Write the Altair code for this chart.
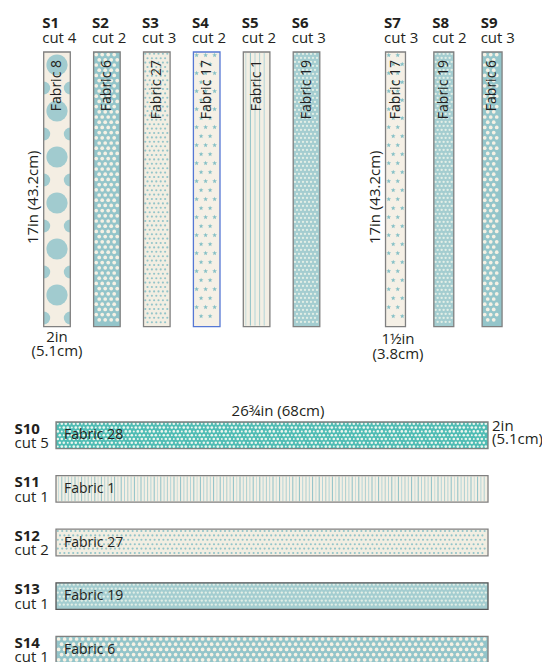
import altair as alt
import numpy as np
import pandas as pd

alt.data_transformers.disable_max_rows()

# ---------------- data ----------------
TOP_IDS = ["S1", "S2", "S3", "S4", "S5", "S6", "S7", "S8", "S9"]
TOP_CUTS = [4, 2, 3, 2, 2, 3, 3, 2, 3]
TOP_FABRICS = [8, 6, 27, 17, 1, 19, 17, 19, 6]
TOP_WIDTH_IN = [2, 2, 2, 2, 2, 2, 1.5, 1.5, 1.5]
TOP_LENGTH_IN = [17, 17, 17, 17, 17, 17, 17, 17, 17]
TOP_GROUP = [0, 0, 0, 0, 0, 0, 1, 1, 1]

BOTTOM_IDS = ["S10", "S11", "S12", "S13", "S14"]
BOTTOM_CUTS = [5, 1, 2, 1, 1]
BOTTOM_FABRICS = [28, 1, 27, 19, 6]
BOTTOM_LENGTH_IN = [26.75, 26.75, 26.75, 26.75, 26.75]
BOTTOM_WIDTH_IN = [2, 2, 2, 2, 2]

TOP_LENGTH_LABEL = "17in (43.2cm)"
TOP_WIDTH_LABELS = ["2in\n(5.1cm)", "1½in\n(3.8cm)"]
BOTTOM_LENGTH_LABEL = "26¾in (68cm)"
BOTTOM_WIDTH_LABEL = "2in\n(5.1cm)"

# ---------------- layout / style ----------------
W, H = 534, 654
PX_LONG = 16.15
PX_SHORT = 13.3
TOP_Y0 = 44
GROUP_CX0 = [49.0, 387.5]
GROUP_STEP = [49.9, 48.3]
BOT_X0 = 48
BOT_Y0 = 414
BOT_STEP = 53.6
INK = "#231f20"
FONT = "Open Sans"

FABRIC_BG = {8: "#f4eee3", 6: "#94c5ca", 27: "#f2eee2", 17: "#f5f0e6",
             1: "#f3efe4", 19: "#a4cdd0", 28: "#4fbcb4"}
BORDER = {"S4": "#5577d4", "S13": "#555555"}

# ---------------- strips ----------------
rows = []
counts = [0, 0]
for i, sid in enumerate(TOP_IDS):
    g = TOP_GROUP[i]
    cx = GROUP_CX0[g] + GROUP_STEP[g] * counts[g]
    counts[g] += 1
    w = TOP_WIDTH_IN[i] * PX_SHORT
    h = TOP_LENGTH_IN[i] * PX_LONG
    rows.append(dict(id=sid, cut=TOP_CUTS[i], fabric=TOP_FABRICS[i], orient="v", group=g,
                     x0=cx - w / 2, x1=cx + w / 2, y0=TOP_Y0, y1=TOP_Y0 + h))
for j, sid in enumerate(BOTTOM_IDS):
    y0 = BOT_Y0 + j * BOT_STEP
    rows.append(dict(id=sid, cut=BOTTOM_CUTS[j], fabric=BOTTOM_FABRICS[j], orient="h", group=2,
                     x0=BOT_X0, x1=BOT_X0 + BOTTOM_LENGTH_IN[j] * PX_LONG,
                     y0=y0, y1=y0 + BOTTOM_WIDTH_IN[j] * PX_SHORT))
strips = pd.DataFrame(rows)
strips["bg"] = strips["fabric"].map(FABRIC_BG)
strips["border"] = strips["id"].map(lambda s: BORDER.get(s, "#808080"))


# ---------------- fabric textures (decoration inside each strip) ----------------
def grid(x0, y0, x1, y1, dx, dy, m):
    out = []
    ys_ = np.arange(y0 + m, y1 - m + 1e-6, dy)
    for jj, yy in enumerate(ys_):
        off = dx / 2 if jj % 2 else 0.0
        for xx in np.arange(x0 + m + off, x1 - m + 1e-6, dx):
            out.append((float(xx), float(yy)))
    return out


dots, stars, lines, big, halfL, halfR = [], [], [], [], [], []
for r in strips.itertuples():
    f = r.fabric
    if f == 6:
        for (px, py) in grid(r.x0, r.y0, r.x1, r.y1, 6.0, 5.2, 2.6):
            dots.append(dict(x=px, y=py, c="#f6f1e4", s=14))
    elif f == 27:
        for (px, py) in grid(r.x0, r.y0, r.x1, r.y1, 4.4, 4.4, 1.8):
            dots.append(dict(x=px, y=py, c="#93c4c9", s=4.5))
    elif f == 19:
        for (px, py) in grid(r.x0, r.y0, r.x1, r.y1, 4.0, 4.0, 1.8):
            dots.append(dict(x=px, y=py, c="#e2eee6", s=5.5))
    elif f == 28:
        for k, (px, py) in enumerate(grid(r.x0, r.y0, r.x1, r.y1, 4.0, 3.8, 1.8)):
            dots.append(dict(x=px, y=py, c="#eef5ee", s=(7 if k % 3 else 4)))
    elif f == 17:
        for (px, py) in grid(r.x0, r.y0, r.x1, r.y1, 9.0, 9.0, 3.2):
            stars.append(dict(x=px, y=py, c="#86c0c6", s=26))
    elif f == 1:
        step = 4.6 if r.orient == "v" else 3.3
        for k, lx in enumerate(np.arange(r.x0 + 2.5, r.x1 - 1.5, step)):
            lines.append(dict(x=float(lx), y=r.y0 + 1, y2=r.y1 - 1,
                              c=("#8fc1c7" if k % 2 else "#b3d5d8"),
                              sw=(1.0 if k % 3 else 0.7)))
    elif f == 8:
        cx = (r.x0 + r.x1) / 2
        for cy in np.arange(r.y0 + 13, r.y1 - 11, 46.0):
            big.append(dict(x=cx, y=float(cy)))
        for cy in np.arange(r.y0 + 36, r.y1, 46.0):
            halfL.append(dict(x=r.x0, y=float(cy)))
            halfR.append(dict(x=r.x1, y=float(cy)))

dots = pd.DataFrame(dots)
stars = pd.DataFrame(stars)
lines = pd.DataFrame(lines)
big = pd.DataFrame(big)
halfL = pd.DataFrame(halfL)
halfR = pd.DataFrame(halfR)

# ---------------- labels ----------------
bold_rows, cut_rows, center_rows, multi_c, multi_l, vlen_rows, fab_v, fab_h = [], [], [], [], [], [], [], []
for r in strips.itertuples():
    if r.orient == "v":
        bold_rows.append(dict(x=r.x0 - 1.5, y=20, t=r.id))
        cut_rows.append(dict(x=r.x0 - 1.5, y=34.5, t=f"cut {r.cut}"))
        fab_v.append(dict(x=(r.x0 + r.x1) / 2, y=r.y0 + 8, t=f"Fabric {r.fabric}"))
    else:
        bold_rows.append(dict(x=r.x0 - 41.5, y=r.y0 + 11.5, t=r.id))
        cut_rows.append(dict(x=r.x0 - 41.5, y=r.y0 + 26, t=f"cut {r.cut}"))
        fab_h.append(dict(x=r.x0 + 8, y=(r.y0 + r.y1) / 2, t=f"Fabric {r.fabric}"))

for g in (0, 1):
    first = strips[strips["group"] == g].iloc[0]
    cx = (first.x0 + first.x1) / 2
    vlen_rows.append(dict(x=first.x0 - 11, y=(first.y0 + first.y1) / 2 + 8, t=TOP_LENGTH_LABEL))
    off = 0 if g == 0 else 2.5
    multi_c.append(dict(x=cx + off, y=first.y1 + 15 + off, t=TOP_WIDTH_LABELS[g]))

s10 = strips[strips["id"] == "S10"].iloc[0]
center_rows.append(dict(x=(s10.x0 + s10.x1) / 2 + 6, y=s10.y0 - 6.5, t=BOTTOM_LENGTH_LABEL))
multi_l.append(dict(x=s10.x1 + 4, y=s10.y0 + 8.5, t=BOTTOM_WIDTH_LABEL))

# ---------------- chart ----------------
xs = alt.Scale(domain=[0, W], nice=False, zero=False)
ysc = alt.Scale(domain=[0, H], nice=False, zero=False, reverse=True)


def X(f):
    return alt.X(f, type="quantitative", scale=xs, axis=None)


def Y(f):
    return alt.Y(f, type="quantitative", scale=ysc, axis=None)


bg = alt.Chart(strips).mark_rect(strokeWidth=0).encode(
    x=X("x0"), x2="x1", y=Y("y0"), y2="y1", color=alt.Color("bg:N", scale=None))

big_l = alt.Chart(big).mark_circle(size=450, opacity=1, color="#a1cbcf").encode(x=X("x"), y=Y("y"))
half_l = alt.Chart(halfL).mark_arc(radius=6.5, theta=0, theta2=3.14159, color="#a1cbcf").encode(x=X("x"), y=Y("y"))
half_r = alt.Chart(halfR).mark_arc(radius=6.5, theta=3.14159, theta2=6.28318, color="#a1cbcf").encode(x=X("x"), y=Y("y"))

dots_l = alt.Chart(dots).mark_circle(opacity=1).encode(
    x=X("x"), y=Y("y"), color=alt.Color("c:N", scale=None), size=alt.Size("s:Q", scale=None))

STAR = "M0,-1L0.24,-0.33L0.95,-0.31L0.38,0.12L0.59,0.81L0,0.4L-0.59,0.81L-0.38,0.12L-0.95,-0.31L-0.24,-0.33Z"
stars_l = alt.Chart(stars).mark_point(shape=STAR, filled=True, opacity=1, strokeWidth=0).encode(
    x=X("x"), y=Y("y"), color=alt.Color("c:N", scale=None), size=alt.Size("s:Q", scale=None))

lines_l = alt.Chart(lines).mark_rule().encode(
    x=X("x"), y=Y("y"), y2="y2", color=alt.Color("c:N", scale=None),
    strokeWidth=alt.StrokeWidth("sw:Q", scale=None))

border = alt.Chart(strips).mark_rect(filled=False, strokeWidth=1.3).encode(
    x=X("x0"), x2="x1", y=Y("y0"), y2="y1", color=alt.Color("border:N", scale=None))


def txt(df, **kw):
    return alt.Chart(pd.DataFrame(df)).mark_text(font=FONT, color=INK, **kw).encode(
        x=X("x"), y=Y("y"), text="t:N")


t_bold = txt(bold_rows, fontSize=15, fontWeight="bold", align="left", baseline="alphabetic")
t_cut = txt(cut_rows, fontSize=15, align="left", baseline="alphabetic")
t_center = txt(center_rows, fontSize=15, align="center", baseline="alphabetic")
t_multi_c = txt(multi_c, fontSize=15, align="center", baseline="alphabetic", lineBreak="\n", lineHeight=14.5)
t_multi_l = txt(multi_l, fontSize=15, align="left", baseline="alphabetic", lineBreak="\n", lineHeight=13.5)
t_vlen = txt(vlen_rows, fontSize=15, align="center", baseline="middle", angle=270)
t_fab_v = txt(fab_v, fontSize=14, align="right", baseline="middle", angle=270)
t_fab_h = txt(fab_h, fontSize=14, align="left", baseline="middle")

chart = alt.layer(
    bg, big_l, half_l, half_r, dots_l, stars_l, lines_l, border,
    t_bold, t_cut, t_center, t_multi_c, t_multi_l, t_vlen, t_fab_v, t_fab_h
).properties(
    width=W, height=H, autosize=alt.AutoSizeParams(type="none"), padding=0, background="white"
).configure_view(stroke=None)

chart.save("out.html", embed_options={"renderer": "svg", "actions": False})
